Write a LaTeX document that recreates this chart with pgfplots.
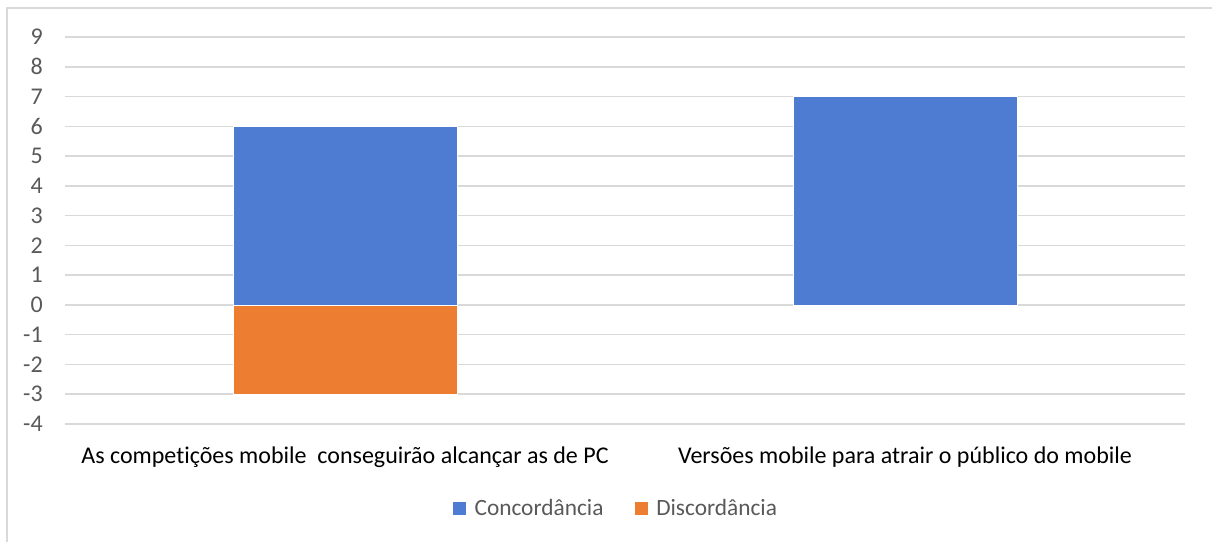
\documentclass[border=0pt]{standalone}
\usepackage{pgfplots}
\pgfplotsset{compat=1.18}
\usepackage{fontspec}
\setmainfont{Carlito}[Ligatures=NoCommon]
\definecolor{cblue}{HTML}{4E7CD3}
\definecolor{corange}{HTML}{ED7D31}
\definecolor{cgrid}{HTML}{D9D9D9}
\definecolor{ctext}{HTML}{595959}
\begin{document}
\begin{tikzpicture}[x=1pt,y=1pt]
\useasboundingbox (0,0) rectangle (909,406.5);
\draw[cgrid, line width=1pt] (5.25,0) -- (5.25,400.5) -- (909,400.5);
\begin{axis}[
  at={(48.75pt,88.5pt)}, anchor=south west,
  width=840pt, height=290.25pt, scale only axis,
  xmin=-0.5, xmax=1.5, ymin=-4, ymax=9,
  axis line style={draw=none},
  ytick={-4,...,9},
  xtick={0,1},
  xticklabels={As competições mobile\ \ conseguirão alcançar as de PC, Versões mobile para atrair o público do mobile},
  ymajorgrids, grid style={cgrid, line width=1.2pt},
  major tick length=0pt,
  /pgf/number format/assume math mode=true,
  yticklabel style={font=\fontsize{18}{20}\selectfont, text=ctext, anchor=east, inner sep=0pt, xshift=-16.5pt},
  xticklabel style={font=\fontsize{18}{20}\selectfont, text=black, anchor=base, inner sep=0pt, yshift=-29.25pt},
  ybar, bar width=168pt, bar shift=0pt,
  legend style={at={(0.492,-0.217)}, anchor=center, draw=none, fill=none,
    font=\fontsize{17.5}{19}\selectfont, text=ctext, legend columns=2,
    /tikz/every even column/.append style={column sep=21pt},
    /tikz/every odd column/.append style={column sep=3.5pt},
    inner sep=0pt},
  legend image code/.code={\fill[#1] (0pt,-5.25pt) rectangle (10.5pt,5.25pt);},
  clip=false,
]
\addplot[fill=cblue, draw=white, line width=0.6pt] coordinates {(0,6) (1,7)};
\addlegendentry{Concordância}
\addplot[fill=corange, draw=white, line width=0.6pt] coordinates {(0,-3)};
\addlegendentry{Discordância}
\end{axis}
\end{tikzpicture}
\end{document}
